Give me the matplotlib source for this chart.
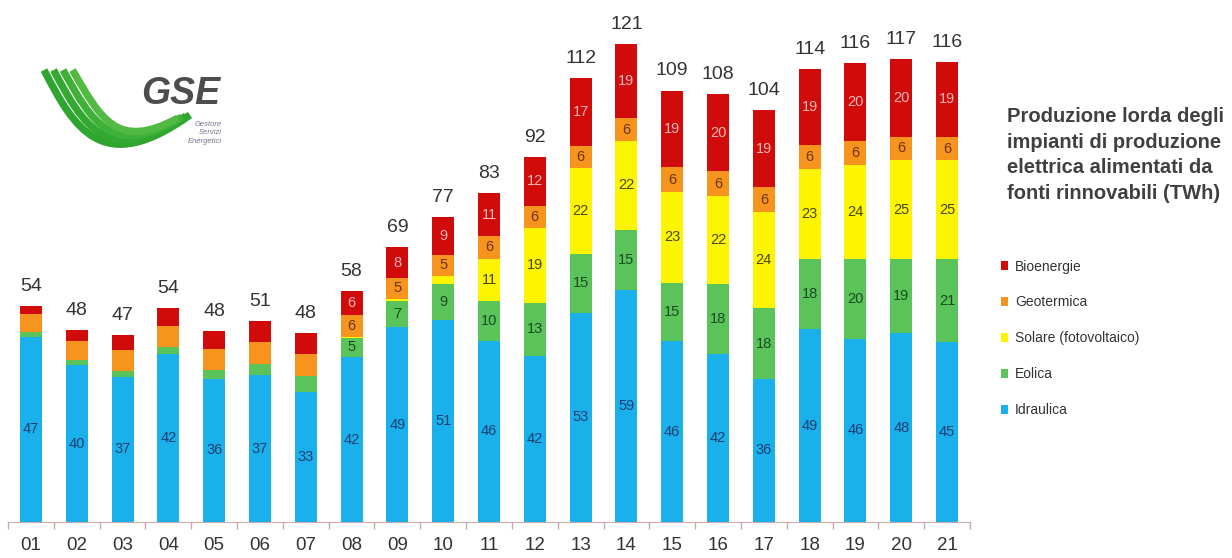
import matplotlib.pyplot as plt
import numpy as np
from matplotlib.path import Path
from matplotlib.patches import PathPatch

years = ["01", "02", "03", "04", "05", "06", "07", "08", "09", "10", "11",
         "12", "13", "14", "15", "16", "17", "18", "19", "20", "21"]

# TWh per source
idraulica = [46.8, 39.6, 36.7, 42.3, 36.1, 37.0, 32.8, 41.6, 49.1, 51.1, 45.8,
             41.9, 52.8, 58.6, 45.6, 42.4, 36.2, 48.7, 46.3, 47.6, 45.4]
eolica = [1.2, 1.4, 1.5, 1.8, 2.3, 3.0, 4.0, 4.9, 6.6, 9.1, 9.9,
          13.4, 14.9, 15.2, 14.8, 17.7, 17.7, 17.7, 20.2, 18.8, 20.9]
solare = [0.0, 0.0, 0.0, 0.0, 0.0, 0.0, 0.0, 0.2, 0.7, 1.9, 10.8,
          18.9, 21.6, 22.3, 22.9, 22.1, 24.4, 22.7, 23.7, 24.9, 25.0]
geotermica = [4.5, 4.7, 5.3, 5.4, 5.3, 5.5, 5.6, 5.6, 5.3, 5.4, 5.7,
              5.6, 5.7, 5.9, 6.2, 6.3, 6.2, 6.1, 6.1, 6.0, 5.9]
bioenergie = [1.9, 2.7, 3.6, 4.5, 4.5, 5.3, 5.3, 6.0, 7.6, 9.4, 10.8,
              12.4, 17.1, 18.7, 19.4, 19.6, 19.4, 19.2, 19.6, 19.6, 19.0]

series = [
    ("Idraulica", idraulica, "#1ab0ec", "#1d3f70"),
    ("Eolica", eolica, "#5ac35a", "#1b4a22"),
    ("Solare (fotovoltaico)", solare, "#fcf400", "#4a4712"),
    ("Geotermica", geotermica, "#f7941d", "#6a3510"),
    ("Bioenergie", bioenergie, "#d10a0a", "#f6b8b8"),
]

plt.rcParams["font.family"] = ["Liberation Sans", "DejaVu Sans"]

fig = plt.figure(figsize=(12.32, 5.58), dpi=100)
ax = fig.add_axes([8 / 1232, 36 / 558, 962 / 1232, 515 / 558])
ax.patch.set_visible(False)

x = np.arange(len(years))
bottom = np.zeros(len(years))
handles = []
for name, vals, color, txt in series:
    vals = np.array(vals)
    bars = ax.bar(x, vals, 0.48, bottom=bottom, color=color, label=name, zorder=2)
    handles.append(bars)
    for i, v in enumerate(vals):
        if name == "Idraulica" or (i >= 7 and v >= 4.8):
            ax.text(x[i], bottom[i] + v / 2, f"{round(v)}", ha="center", va="center",
                    fontsize=10.5, color=txt, zorder=3)
    bottom += vals

for i, tot in enumerate(bottom):
    ax.annotate(f"{round(tot)}", (x[i], tot), xytext=(0, 8), textcoords="offset points",
                ha="center", va="bottom", fontsize=14, color="#333333")

ax.set_xlim(-0.5, len(years) - 0.5)
ax.set_ylim(0, 130)
ax.set_yticks([])
ax.set_xticks(x)
ax.set_xticklabels(years, fontsize=13.5, color="#333333")
ax.set_xticks(np.arange(-0.5, len(years)), minor=True)
ax.tick_params(axis="x", which="major", length=0, pad=11)
ax.tick_params(axis="x", which="minor", length=5, color="#c9a9a9", width=1)
for s in ["top", "left", "right"]:
    ax.spines[s].set_visible(False)
ax.spines["bottom"].set_color("#c9a9a9")

# legend, Bioenergie on top
leg = fig.legend(handles[::-1], [s[0] for s in series][::-1], loc="upper left",
                 bbox_to_anchor=(995 / 1232, 1 - 254 / 558), frameon=False,
                 fontsize=10, handlelength=0.55, handleheight=0.55, handletextpad=0.5,
                 labelspacing=1.58, borderaxespad=0)
for t in leg.get_texts():
    t.set_color("#333333")

fig.text(1007 / 1232, 1 - 155 / 558,
         "Produzione lorda degli\nimpianti di produzione\nelettrica alimentati da\nfonti rinnovabili (TWh)",
         fontsize=14.5, fontweight="bold", color="#404040", va="center", ha="left",
         linespacing=1.45)

# logo
lg = fig.add_axes([0, 0, 1, 1], zorder=-1)
lg.set_xlim(0, 1232)
lg.set_ylim(558, 0)
lg.axis("off")
greens = ["#2ea52f", "#33a932", "#3fb038", "#52b942"]
for i in range(4):
    verts = [(44 + 9.5 * i, 70), (74 + 9 * i, 128 - 3 * i), (102 + 5 * i, 178 - 9 * i),
             (190 - 4 * i, 115 + i)]
    p = Path(verts, [Path.MOVETO, Path.CURVE4, Path.CURVE4, Path.CURVE4])
    lg.add_patch(PathPatch(p, fill=False, lw=5.3, edgecolor=greens[i], capstyle="butt"))
lg.text(181, 94, "GSE", fontsize=27, fontweight="bold", style="italic", color="#4d4d4d",
        ha="center", va="center")
lg.text(222, 133, "Gestore\nServizi\nEnergetici", fontsize=5.5, color="#7a6f8a",
        ha="right", va="center", style="italic", linespacing=1.3)

fig.savefig("out.png", dpi=100)
